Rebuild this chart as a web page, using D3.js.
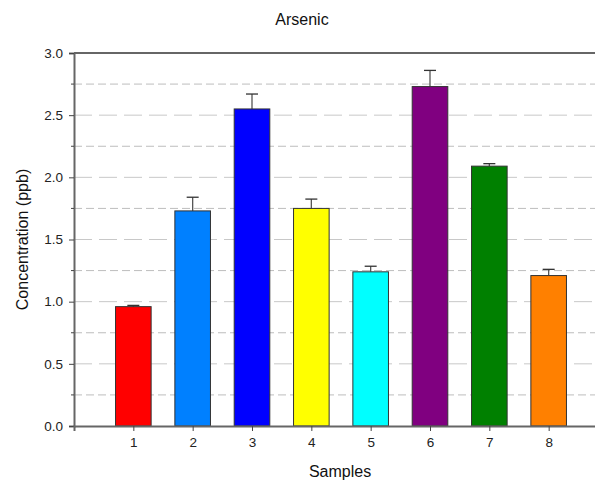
<!DOCTYPE html>
<html>
<head>
<meta charset="utf-8">
<script src="https://cdn.jsdelivr.net/npm/d3@7"></script>
<style>
  body { margin: 0; background: #fff; }
  svg { display: block; font-family: "Liberation Sans", Arial, sans-serif; }
</style>
</head>
<body>
<div id="chart-area"></div>
<script>
// DATA
var samples = [1, 2, 3, 4, 5, 6, 7, 8];
var concentration = [0.96, 1.73, 2.55, 1.75, 1.24, 2.73, 2.09, 1.21];
var errorUp = [0.01, 0.11, 0.12, 0.075, 0.045, 0.13, 0.02, 0.05];
var barColors = ["#ff0000", "#0080ff", "#0000ff", "#ffff00", "#00ffff", "#800080", "#008000", "#ff8000"];
var yMajorTicks = [0, 0.5, 1.0, 1.5, 2.0, 2.5, 3.0];
var yMinorTicks = [0.25, 0.75, 1.25, 1.75, 2.25, 2.75];

var margin = { left: 74, top: 53, right: -13, bottom: 56 },
    svgW = 595, svgH = 482,
    width = svgW - margin.left - margin.right,
    height = svgH - margin.top - margin.bottom;

var svg = d3.select("#chart-area").append("svg")
    .attr("width", svgW)
    .attr("height", svgH);

var g = svg.append("g")
    .attr("transform", "translate(" + margin.left + "," + margin.top + ")");

// Scales
var x = d3.scaleLinear().domain([0, 9]).range([0, width]);
var y = d3.scaleLinear().domain([0, 3]).range([height, 0]);
var barW = (x(1) - x(0)) * 0.6;

// gridlines
g.selectAll(".grid-major").data(yMajorTicks.filter(d => d > 0 && d < 3))
  .enter().append("line")
    .attr("x1", 0).attr("x2", width)
    .attr("y1", d => y(d)).attr("y2", d => y(d))
    .attr("stroke", "#c8c8c8")
    .attr("stroke-dasharray", "18,7");

g.selectAll(".grid-minor").data(yMinorTicks)
  .enter().append("line")
    .attr("x1", 0).attr("x2", width)
    .attr("y1", d => y(d)).attr("y2", d => y(d))
    .attr("stroke", "#bdbdbd")
    .attr("stroke-dasharray", "8,4");

// error bars
var err = g.selectAll(".err").data(samples)
  .enter().append("g");

err.append("line")
    .attr("x1", d => x(d)).attr("x2", d => x(d))
    .attr("y1", (d, i) => y(concentration[i]))
    .attr("y2", (d, i) => y(concentration[i] + errorUp[i]))
    .attr("stroke", "#555").attr("stroke-width", 1.3);

err.append("line")
    .attr("x1", d => x(d) - 6).attr("x2", d => x(d) + 6)
    .attr("y1", (d, i) => y(concentration[i] + errorUp[i]))
    .attr("y2", (d, i) => y(concentration[i] + errorUp[i]))
    .attr("stroke", "#333").attr("stroke-width", 1.3);

// bars
g.selectAll(".bar").data(samples)
  .enter().append("rect")
    .attr("x", d => x(d) - barW / 2)
    .attr("width", barW)
    .attr("y", (d, i) => y(concentration[i]))
    .attr("height", (d, i) => height - y(concentration[i]))
    .attr("fill", (d, i) => barColors[i])
    .attr("stroke", "#333")
    .attr("stroke-width", 1);

// top frame line
g.append("line")
    .attr("x1", 0).attr("x2", width)
    .attr("y1", 0).attr("y2", 0)
    .attr("stroke", "#666").attr("stroke-width", 2);

// Axes
var yAxisCall = d3.axisLeft(y)
    .tickValues(yMajorTicks)
    .tickFormat(d3.format(".1f"))
    .tickSize(5).tickPadding(6);

var yAxis = g.append("g").call(yAxisCall);

g.append("g").selectAll("line").data(yMinorTicks)
  .enter().append("line")
    .attr("x1", -3).attr("x2", 0)
    .attr("y1", d => y(d)).attr("y2", d => y(d))
    .attr("stroke", "#444");

var xAxisCall = d3.axisBottom(x)
    .tickValues(samples)
    .tickFormat(d3.format("d"))
    .tickSize(5).tickPadding(6);

var xAxis = g.append("g")
    .attr("transform", "translate(0," + height + ")")
    .call(xAxisCall);

[xAxis, yAxis].forEach(a => {
  a.select(".domain").attr("stroke", "#666").attr("stroke-width", 2);
  a.selectAll(".tick line").attr("stroke", "#444");
  a.selectAll(".tick text")
    .attr("fill", "#222")
    .style("font-size", "13.5px")
    .style("font-family", "'Liberation Sans', Arial, sans-serif");
});

// LABELS
svg.append("text")
    .attr("x", 302).attr("y", 25)
    .attr("text-anchor", "middle")
    .style("font-size", "16px")
    .attr("fill", "#111")
    .text("Arsenic");

svg.append("text")
    .attr("x", 340).attr("y", 477)
    .attr("text-anchor", "middle")
    .style("font-size", "16px")
    .attr("fill", "#111")
    .text("Samples");

svg.append("text")
    .attr("transform", "translate(28," + (margin.top + height / 2) + ") rotate(-90)")
    .attr("text-anchor", "middle")
    .style("font-size", "16px")
    .attr("fill", "#111")
    .text("Concentration (ppb)");
</script>
</body>
</html>
